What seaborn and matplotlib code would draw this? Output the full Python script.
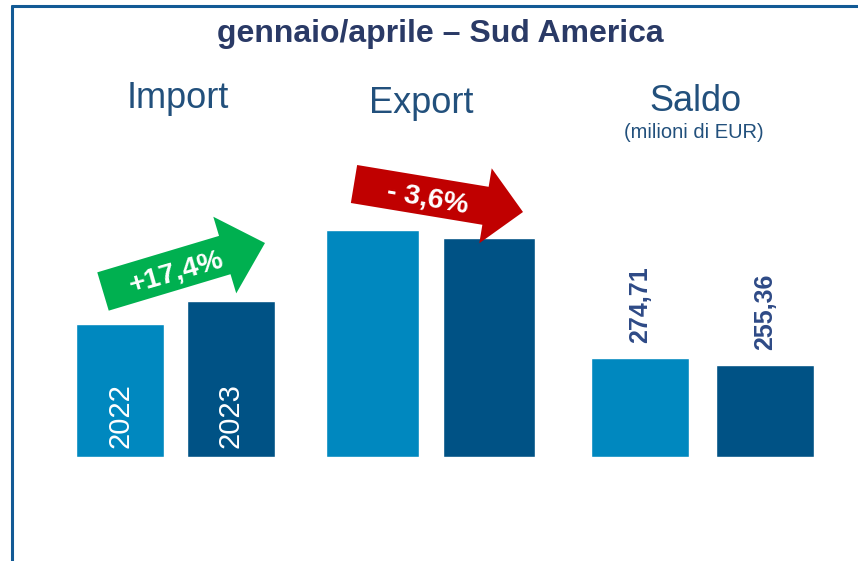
import numpy as np
import pandas as pd
import matplotlib
matplotlib.use("Agg")
import matplotlib.pyplot as plt
from matplotlib.patches import Polygon
from matplotlib.lines import Line2D
import seaborn as sns

# ---- data -------------------------------------------------------------
years = ["2022", "2023"]
import_values = [369.0, 433.0]        # gennaio/aprile, milioni di EUR
export_values = [630.0, 608.0]
saldo_values = [274.71, 255.36]
saldo_labels = ["274,71", "255,36"]
import_change = "+17,4%"
export_change = "- 3,6%"
group_titles = ["Import", "Export", "Saldo"]
title = "gennaio/aprile \u2013 Sud America"
subtitle = "(milioni di EUR)"

# ---- style ------------------------------------------------------------
sns.set_style("white")
plt.rcParams["font.family"] = ["Liberation Sans", "DejaVu Sans"]

LIGHT = "#0088BF"
DARK = "#005285"
NAVY = "#2A3A66"
HEAD = "#22507C"
VALUE = "#2E4A86"
FRAME = "#125A95"
palette = {years[0]: LIGHT, years[1]: DARK}

W, H = 858, 561
fig = plt.figure(figsize=(W / 100, H / 100), dpi=100)


def fx(x):
    return x / W


def fy(y):
    return 1 - y / H


# vertical scale shared by all three panels
BASE = 457            # pixel row of the bar baseline
PX_PER_UNIT = 99 / 274.71
YMAX = 720
ax_h = YMAX * PX_PER_UNIT

# (centre of first bar, distance between bars) for each panel, in pixels
panels = [(120, 111), (372.5, 116.5), (640, 125)]
series = [import_values, export_values, saldo_values]
axes = []
for (c0, step), vals in zip(panels, series):
    left = c0 - step / 2
    ax = fig.add_axes([fx(left), fy(BASE), fx(2 * step), ax_h / H])
    df = pd.DataFrame({"anno": years, "valore": vals})
    sns.barplot(data=df, x="anno", y="valore", hue="anno", palette=palette,
                width=0.79, legend=False, saturation=1, ax=ax)
    ax.set_xlim(-0.5, 1.5)
    ax.set_ylim(0, YMAX)
    ax.axis("off")
    axes.append(ax)

# year labels inside the import bars
for i, yr in enumerate(years):
    axes[0].annotate(yr, xy=(i, 0), xytext=(0, 6.5), textcoords="offset points",
                     rotation=90, ha="center", va="bottom", color="white",
                     fontsize=21)

# balance values above the saldo bars
for i, (v, lab) in enumerate(zip(saldo_values, saldo_labels)):
    axes[2].annotate(lab, xy=(i, v), xytext=(0, 11), textcoords="offset points",
                     rotation=90, ha="center", va="bottom", color=VALUE,
                     fontsize=18, fontweight="bold")

# ---- titles -----------------------------------------------------------
fig.text(fx(440), fy(42), title, ha="center", va="baseline", color=NAVY,
         fontsize=23, fontweight="bold")
for (cx, by), t in zip([(178, 108), (421, 113), (695, 111)], group_titles):
    fig.text(fx(cx), fy(by), t, ha="center", va="baseline", color=HEAD,
             fontsize=26)
fig.text(fx(694), fy(138), subtitle, ha="center", va="baseline", color=HEAD,
         fontsize=14.5)


# ---- change arrows ----------------------------------------------------
def arrow(tail, tip, shaft_w, head_w, head_len, color):
    tail = np.array(tail, float)
    tip = np.array(tip, float)
    d = tip - tail
    length = np.hypot(*d)
    u = d / length
    n = np.array([-u[1], u[0]])
    base = tip - u * head_len
    pts = [tail + n * shaft_w / 2, base + n * shaft_w / 2, base + n * head_w / 2,
           tip, base - n * head_w / 2, base - n * shaft_w / 2, tail - n * shaft_w / 2]
    pts = [(fx(p[0]), fy(p[1])) for p in pts]
    fig.patches.append(Polygon(pts, closed=True, facecolor=color, edgecolor="none",
                               transform=fig.transFigure, zorder=3))


arrow((103, 291.5), (265, 243), 40, 80, 42, "#00B050")
arrow((354, 184), (523, 212), 38.5, 76, 38, "#C00000")

fig.text(fx(176), fy(273), import_change, ha="center", va="center",
         rotation=16, rotation_mode="anchor", color="white", fontsize=20.5,
         fontweight="bold", zorder=4)
fig.text(fx(428), fy(199), export_change, ha="center", va="center",
         rotation=-10, rotation_mode="anchor", color="white", fontsize=20.5,
         fontweight="bold", zorder=4)

# ---- frame ------------------------------------------------------------
fig.lines.append(Line2D([fx(12), fx(12)], [fy(6), 0], color=FRAME, lw=2.2,
                        transform=fig.transFigure))
fig.lines.append(Line2D([fx(12), 1], [fy(6), fy(6)], color=FRAME, lw=2.2,
                        transform=fig.transFigure))

fig.savefig("out.png", dpi=100, facecolor="white")
